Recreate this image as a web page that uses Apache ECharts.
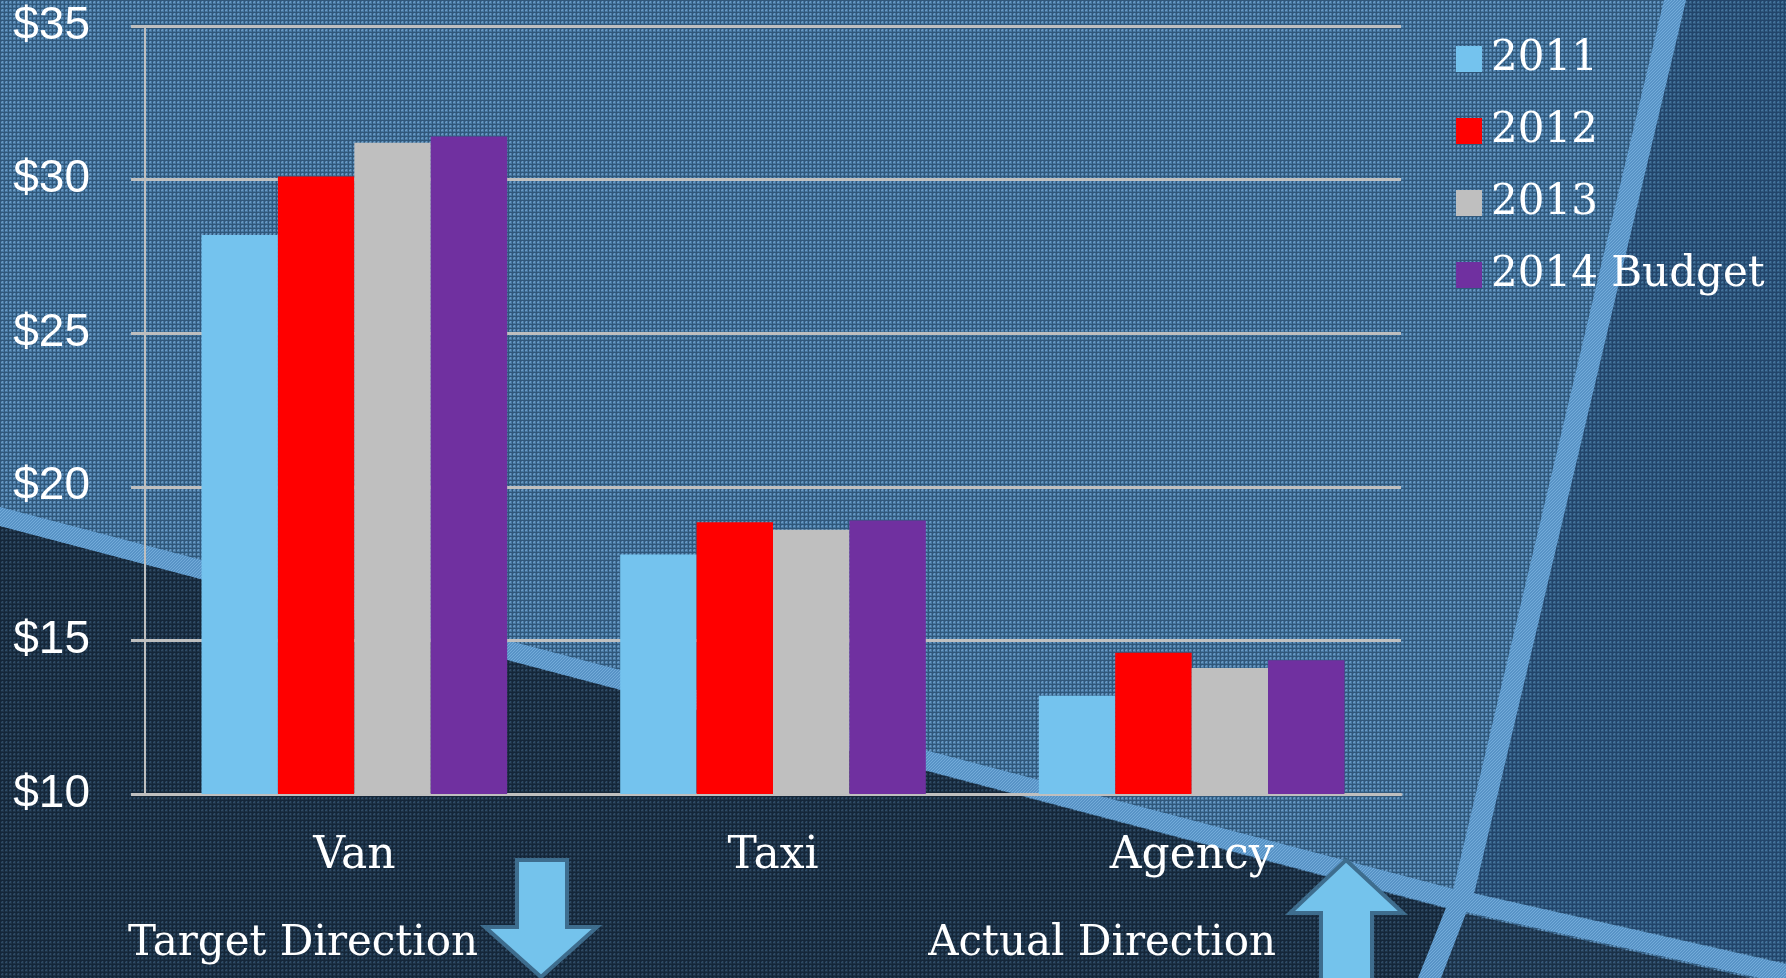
<!DOCTYPE html>
<html>
<head>
<meta charset="utf-8">
<title>Cost per Trip</title>
<script src="https://cdn.jsdelivr.net/npm/echarts@6/dist/echarts.min.js"></script>
<style>
  html, body { margin: 0; padding: 0; background: #1d3347; }
  #chart { width: 1786px; height: 978px; }
</style>
</head>
<body>
<div id="chart"></div>
<script>
// Cost per trip by service type
const categories = ['Van', 'Taxi', 'Agency'];
const seriesNames = ['2011', '2012', '2013', '2014 Budget'];
const values2011 = [28.2, 17.8, 13.2];
const values2012 = [30.1, 18.85, 14.6];
const values2013 = [31.2, 18.6, 14.1];
const values2014 = [31.4, 18.9, 14.35];
const yTicks = [10, 15, 20, 25, 30, 35];

const seriesColors = ['#74C3EE', '#FF0000', '#BFBFBF', '#7030A0'];
const seriesValues = [values2011, values2012, values2013, values2014];

// Small woven tile used to texture the backdrop areas
function weave(base, light, dark) {
  const c = document.createElement('canvas');
  c.width = 4; c.height = 4;
  const g = c.getContext('2d');
  g.fillStyle = base;
  g.fillRect(0, 0, 4, 4);
  g.fillStyle = dark;
  g.fillRect(0, 0, 4, 1);
  g.fillRect(0, 0, 1, 4);
  g.fillStyle = light;
  g.fillRect(2, 2, 1, 1);
  g.fillRect(1, 2, 1, 1);
  g.fillRect(2, 1, 1, 1);
  return { image: c, repeat: 'repeat' };
}
function twill(base, light) {
  const c = document.createElement('canvas');
  c.width = 3; c.height = 3;
  const g = c.getContext('2d');
  for (let y = 0; y < 3; y++) {
    for (let x = 0; x < 3; x++) {
      g.fillStyle = ((x + y) % 3 === 0) ? light : base;
      g.fillRect(x, y, 1, 1);
    }
  }
  return { image: c, repeat: 'repeat' };
}

const fillUpper = weave('#4677a0', '#6798c3', '#30577a');
const fillLower = weave('#1e3347', '#2e4a65', '#142639');
const fillRight = weave('#2f587d', '#44729c', '#22446a');
const fillCorner = weave('#243f57', '#365778', '#1a3047');
const fillStripe = twill('#5893c6', '#74acda');

const serifFont = '"DejaVu Serif", serif';

const backdrop = [
  { type: 'rect', shape: { x: 0, y: 0, width: 1786, height: 978 }, style: { fill: fillUpper } },
  { type: 'polygon', shape: { points: [[0, 526], [1448, 909], [1418, 978], [0, 978]] }, style: { fill: fillLower } },
  { type: 'polygon', shape: { points: [[1686, 0], [1786, 0], [1786, 963], [1474, 893]] }, style: { fill: fillRight } },
  { type: 'polygon', shape: { points: [[1458, 912], [1786, 986], [1786, 978], [1440, 978]] }, style: { fill: fillCorner } },
  // diagonal band
  { type: 'polygon', shape: { points: [[0, 507], [1450, 888], [1786, 964], [1786, 984], [1448, 908], [0, 526]] }, style: { fill: fillStripe } },
  // steep band
  { type: 'polygon', shape: { points: [[1664, 0], [1686, 0], [1475, 890], [1441, 978], [1418, 978], [1453, 890]] }, style: { fill: fillStripe } }
].map(function (e) { e.z = -10; e.silent = true; return e; });

const arrowStyle = { fill: '#74C3EC', stroke: '#3E6D8E', lineWidth: 4, lineJoin: 'miter' };

const overlays = [
  { type: 'polygon', z: 10, silent: true,
    shape: { points: [[517, 860], [567, 860], [567, 927], [597, 927], [541, 977], [485, 927], [517, 927]] },
    style: arrowStyle },
  { type: 'polygon', z: 10, silent: true,
    shape: { points: [[1346, 860], [1403, 913], [1372, 913], [1372, 990], [1321, 990], [1321, 913], [1290, 913]] },
    style: arrowStyle },
  { type: 'text', z: 10, silent: true, x: 478, y: 944,
    style: { text: 'Target Direction', fill: '#FFFFFF', font: '42px ' + serifFont, align: 'right', verticalAlign: 'middle' } },
  { type: 'text', z: 10, silent: true, x: 1276, y: 944,
    style: { text: 'Actual Direction', fill: '#FFFFFF', font: '42px ' + serifFont, align: 'right', verticalAlign: 'middle' } }
];

const chart = echarts.init(document.getElementById('chart'), null, { renderer: 'canvas' });

chart.setOption({
  backgroundColor: 'transparent',
  animation: false,
  graphic: { elements: backdrop.concat(overlays) },
  legend: {
    data: seriesNames,
    orient: 'vertical',
    left: 1451,
    top: 33,
    itemWidth: 26,
    itemHeight: 26,
    itemGap: 30,
    icon: 'rect',
    textStyle: { color: '#FFFFFF', fontFamily: serifFont, fontSize: 42, lineHeight: 42, padding: [0, 0, 0, 4] }
  },
  grid: { left: 145, right: 385, top: 26, bottom: 184, containLabel: false },
  xAxis: {
    type: 'category',
    data: categories,
    axisLine: { lineStyle: { color: '#BFBFBF', width: 3 } },
    axisTick: { show: false },
    axisLabel: { color: '#FFFFFF', fontFamily: serifFont, fontSize: 44, lineHeight: 44, margin: 41 }
  },
  yAxis: {
    type: 'value',
    min: yTicks[0],
    max: yTicks[yTicks.length - 1],
    interval: yTicks[1] - yTicks[0],
    axisLine: { show: true, lineStyle: { color: '#BFBFBF', width: 2 } },
    axisTick: { show: true, length: 14, lineStyle: { color: '#BFBFBF', width: 3 } },
    splitLine: { lineStyle: { color: '#BFBFBF', width: 3 } },
    axisLabel: {
      color: '#FFFFFF', fontFamily: '"Liberation Sans", Arial, sans-serif', fontSize: 46, margin: 55,
      formatter: function (v) { return '$' + v; }
    }
  },
  series: seriesNames.map(function (name, i) {
    return {
      name: name,
      type: 'bar',
      data: seriesValues[i],
      barGap: '0%',
      barCategoryGap: '27%',
      itemStyle: { color: seriesColors[i] }
    };
  })
});
</script>
</body>
</html>
